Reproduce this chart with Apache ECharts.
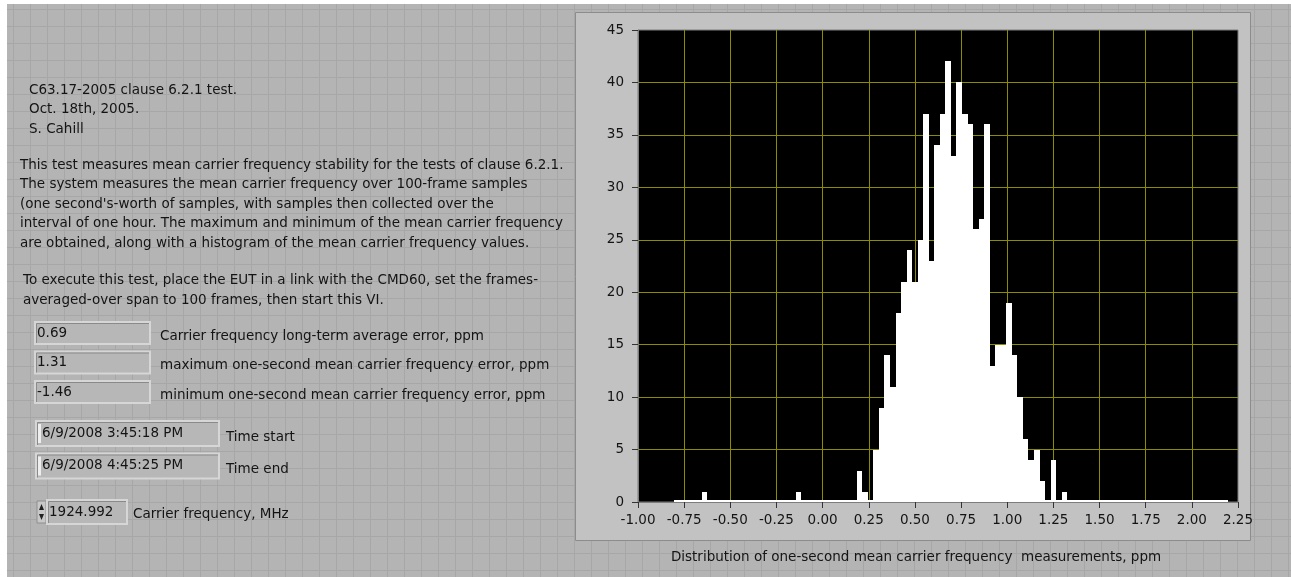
<!DOCTYPE html>
<html lang="en">
<head>
    <meta charset="UTF-8">
    <title>C63.17 clause 6.2.1 - carrier frequency histogram</title>
    <script src="https://cdn.jsdelivr.net/npm/echarts@6.0.0/dist/echarts.min.js"></script>
    <style>
        html, body {
            margin: 0;
            padding: 0;
            background: #fff;
        }
        #panel {
            position: absolute;
            left: 7px;
            top: 4px;
            width: 1284px;
            height: 573px;
            background-color: #b4b4b4;
            background-image:
                linear-gradient(#a7a7a7 1px, transparent 1px),
                linear-gradient(90deg, #a7a7a7 1px, transparent 1px);
            background-size: 17px 17px;
            background-position: 6px 5px;
        }
        #chart {
            position: absolute;
            left: 0;
            top: 0;
            width: 1291px;
            height: 577px;
        }
    </style>
</head>
<body>
    <div id="panel"></div>
    <div id="chart"></div>

    <script>
        // histogram bins (ppm) and counts per bin
        const binStart = -0.805;
        const binWidth = 0.03;
        const counts = [
            0, 0, 0, 0, 0, 1, 0, 0, 0, 0,
            0, 0, 0, 0, 0, 0, 0, 0, 0, 0,
            0, 0, 1, 0, 0, 0, 0, 0, 0, 0,
            0, 0, 0, 3, 1, 0, 5, 9, 14, 11,
            18, 21, 24, 21, 25, 37, 23, 34, 37, 42,
            33, 40, 37, 36, 26, 27, 36, 13, 15, 15,
            19, 14, 10, 6, 4, 5, 2, 0, 4, 0,
            1, 0, 0, 0, 0, 0, 0, 0, 0, 0,
            0, 0, 0, 0, 0, 0, 0, 0, 0, 0,
            0, 0, 0, 0, 0, 0, 0, 0, 0, 0
        ];
        const xTicks = { min: -1, max: 2.25, step: 0.25 };
        const yTicks = { min: 0, max: 45, step: 5 };
        const xTitle = 'Distribution of one-second mean carrier frequency  measurements, ppm';

        // front panel texts
        const headerLines = ['C63.17-2005 clause 6.2.1 test.', 'Oct. 18th, 2005.', 'S. Cahill'];
        const descLines = [
            'This test measures mean carrier frequency stability for the tests of clause 6.2.1.',
            'The system measures the mean carrier frequency over 100-frame samples',
            "(one second's-worth of samples, with samples then collected over the",
            'interval of one hour. The maximum and minimum of the mean carrier frequency',
            'are obtained, along with a histogram of the mean carrier frequency values.'
        ];
        const execLines = [
            'To execute this test, place the EUT in a link with the CMD60, set the frames-',
            'averaged-over span to 100 frames, then start this VI.'
        ];
        const resultValues = ['0.69', '1.31', '-1.46'];
        const resultLabels = [
            'Carrier frequency long-term average error, ppm',
            'maximum one-second mean carrier frequency error, ppm',
            'minimum one-second mean carrier frequency error, ppm'
        ];
        const timeValues = ['6/9/2008 3:45:18 PM', '6/9/2008 4:45:25 PM'];
        const timeLabels = ['Time start', 'Time end'];
        const freqValue = '1924.992';
        const freqLabel = 'Carrier frequency, MHz';

        const FAMILY = '"DejaVu Sans", Tahoma, sans-serif';
        const FONT = '13.5px ' + FAMILY;
        const TXT = '#141414';
        const GRID_YELLOW = '#8c8c00';

        const histData = counts.map((c, i) => {
            const x0 = binStart + i * binWidth;
            return [x0, x0 + binWidth, c];
        });

        function txt(x, y, s, align) {
            return {
                type: 'text', x: x, y: y, z: 50,
                style: { text: s, font: FONT, fill: TXT, align: align || 'left', verticalAlign: 'middle' }
            };
        }

        function box(x, y, w, h) {
            return [
                { type: 'rect', z: 20, shape: { x: x, y: y, width: w, height: h },
                  style: { fill: '#b7b7b7', stroke: '#d6d6d6', lineWidth: 2 } },
                { type: 'polyline', z: 21, shape: { points: [[x + 1.5, y + h - 1], [x + 1.5, y + 1.5], [x + w - 1, y + 1.5]] },
                  style: { stroke: '#8a8a8a', lineWidth: 1, fill: null } }
            ];
        }

        const graphics = [];
        // graph frame
        graphics.push({ type: 'rect', z: -10, shape: { x: 575.5, y: 12.5, width: 675, height: 528 },
            style: { fill: '#c2c2c2', stroke: '#8c8c8c', lineWidth: 1 } });

        headerLines.forEach((s, i) => graphics.push(txt(29, 90 + i * 19.5, s)));
        descLines.forEach((s, i) => graphics.push(txt(20, 165 + i * 19.5, s)));
        execLines.forEach((s, i) => graphics.push(txt(23, 280 + i * 20, s)));

        resultValues.forEach((v, i) => {
            const y = 322 + i * 29.5;
            box(35, y, 115, 22).forEach(g => graphics.push(g));
            graphics.push(txt(37, y + 11, v));
            graphics.push(txt(160, y + 14, resultLabels[i]));
        });

        timeValues.forEach((v, i) => {
            const y = 421 + i * 32.5;
            box(36, y, 183, 25).forEach(g => graphics.push(g));
            graphics.push({ type: 'rect', z: 22, shape: { x: 38, y: y + 3, width: 3, height: 19 }, style: { fill: '#eeeeee' } });
            graphics.push(txt(42, y + 12, v));
            graphics.push(txt(226, y + 16, timeLabels[i]));
        });

        // numeric control with up/down arrows
        graphics.push({ type: 'rect', z: 20, shape: { x: 37, y: 501, width: 9, height: 22 },
            style: { fill: '#c8c8c8', stroke: '#8e8e8e', lineWidth: 1 } });
        graphics.push({ type: 'polygon', z: 21, shape: { points: [[39, 510], [44, 510], [41.5, 504]] }, style: { fill: '#202020' } });
        graphics.push({ type: 'polygon', z: 21, shape: { points: [[39, 514], [44, 514], [41.5, 520]] }, style: { fill: '#202020' } });
        box(47, 500, 80, 24).forEach(g => graphics.push(g));
        graphics.push(txt(49, 512, freqValue));
        graphics.push(txt(133, 514, freqLabel));

        graphics.push({
            type: 'text', x: 916, y: 557, z: 50,
            style: { text: xTitle, font: FONT, fill: TXT, align: 'center', verticalAlign: 'middle' }
        });

        const chart = echarts.init(document.getElementById('chart'));
        chart.setOption({
            animation: false,
            backgroundColor: 'transparent',
            graphic: { elements: graphics },
            grid: {
                left: 638, top: 30, width: 600, height: 472,
                show: true, backgroundColor: '#000', borderWidth: 1, borderColor: '#7d7d7d'
            },
            xAxis: {
                type: 'value',
                min: xTicks.min, max: xTicks.max, interval: xTicks.step,
                axisLine: { show: true, onZero: false, lineStyle: { color: '#7d7d7d', width: 1 } },
                axisTick: { show: true, length: 6, lineStyle: { color: '#333' } },
                axisLabel: { color: TXT, fontFamily: FAMILY, fontSize: 13.5, margin: 11,
                    formatter: v => v.toFixed(2) },
                splitLine: { show: true, showMinLine: false, showMaxLine: false,
                    lineStyle: { color: GRID_YELLOW, width: 1 } }
            },
            yAxis: {
                type: 'value',
                min: yTicks.min, max: yTicks.max, interval: yTicks.step,
                axisLine: { show: true, onZero: false, lineStyle: { color: '#7d7d7d', width: 1 } },
                axisTick: { show: true, length: 6, lineStyle: { color: '#333' } },
                axisLabel: { color: TXT, fontFamily: FAMILY, fontSize: 13.5, margin: 14 },
                splitLine: { show: true, showMinLine: false, showMaxLine: false,
                    lineStyle: { color: GRID_YELLOW, width: 1 } }
            },
            series: [{
                type: 'custom',
                data: histData,
                renderItem: function (params, api) {
                    const p0 = api.coord([api.value(0), 0]);
                    const p1 = api.coord([api.value(1), api.value(2)]);
                    const x0 = Math.round(p0[0]);
                    const x1 = Math.round(p1[0]);
                    const bottom = Math.round(p0[1]);
                    let top = Math.round(p1[1]);
                    if (bottom - top < 2) top = bottom - 2;
                    return {
                        type: 'rect',
                        shape: { x: x0, y: top, width: x1 - x0, height: bottom - top },
                        style: { fill: '#fff', stroke: null }
                    };
                },
                encode: { x: [0, 1], y: 2 }
            }]
        });
    </script>
</body>
</html>
